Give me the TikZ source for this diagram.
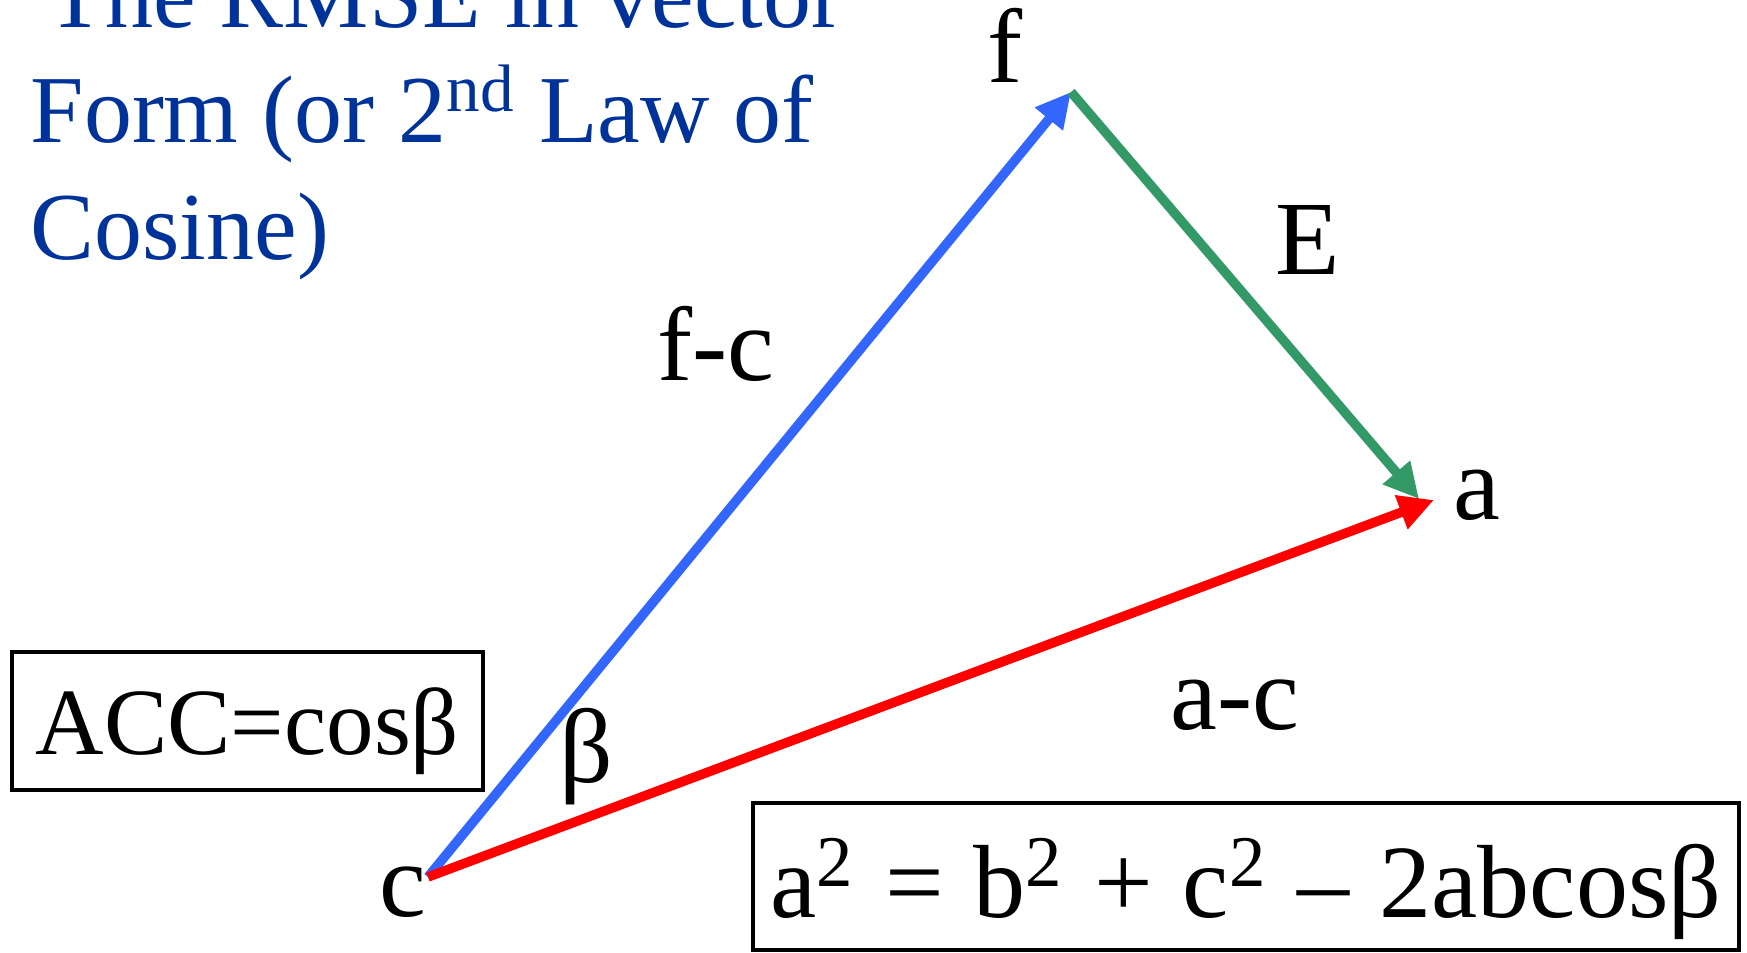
\documentclass[tikz,border=0pt]{standalone}
\usepackage{fontspec}
\setmainfont{Liberation Serif}
\usetikzlibrary{arrows.meta}
\definecolor{vblue}{HTML}{3366FF}
\definecolor{vgreen}{HTML}{339966}
\definecolor{vred}{HTML}{FF0000}
\definecolor{ttlblue}{HTML}{003399}
\begin{document}
\begin{tikzpicture}[
		vec/.style={line width=2.7pt,-{Triangle[length=3.5mm,width=3.4mm]}},
		lbl/.style={anchor=base,inner sep=0pt,font=\fontsize{30}{36}\selectfont},
		ttl/.style={anchor=base west,inner sep=0pt,text=ttlblue,font=\fontsize{27.3}{33}\selectfont},
		eqbox/.style={draw,line width=0.9pt,anchor=base,inner sep=0pt,align=center}]
			\useasboundingbox (0,0) rectangle (17.47,9.53);
			
			\node[ttl] (ttlA) at (0.46,9.25) {The RMSE in vector};
			\node[ttl] (ttlB) at (0.30,8.10) {Form (or 2\textsuperscript{nd} Law of};
			\node[ttl] (ttlC) at (0.30,6.93) {Cosine)};
			
			\coordinate (c) at (4.28,0.76);
			\coordinate (f) at (10.71,8.61);
			\coordinate (a) at (14.34,4.53);
			\coordinate (e) at (14.19,4.54);
			
			\draw[vec,vblue] (c) -- (f);
			\draw[vec,vgreen] (f) -- (e);
			\draw[vec,vred] (c) -- (a);
			
			\node[lbl] (fl) at (10.05,8.70) {f};
			\node[lbl] (al) at (14.77,4.33) {a};
			\node[lbl] (cl) at (4.03,0.36) {c};
			\node[lbl] (El) at (13.08,6.78) {E};
			\node[lbl] (fcl) at (7.16,5.72) {f-c};
			\node[lbl] (acl) at (12.35,2.23) {a-c};
			\node[lbl] (bl) at (5.86,1.70) {β};
			
			\node[eqbox,text width=4.71cm,text height=1.03cm,text depth=0.35cm,
				font=\fontsize{27}{32}\selectfont] (acc) at (2.475,1.98) {ACC=cosβ};
			\node[eqbox,text width=9.86cm,text height=1.15cm,text depth=0.32cm,
				font=\fontsize{29.6}{35}\selectfont] (law) at (12.46,0.35)
				{\spaceskip=0.29em\relax a\textsuperscript{2} = b\textsuperscript{2} + c\textsuperscript{2} – 2abcosβ};
		\end{tikzpicture}
\end{document}
